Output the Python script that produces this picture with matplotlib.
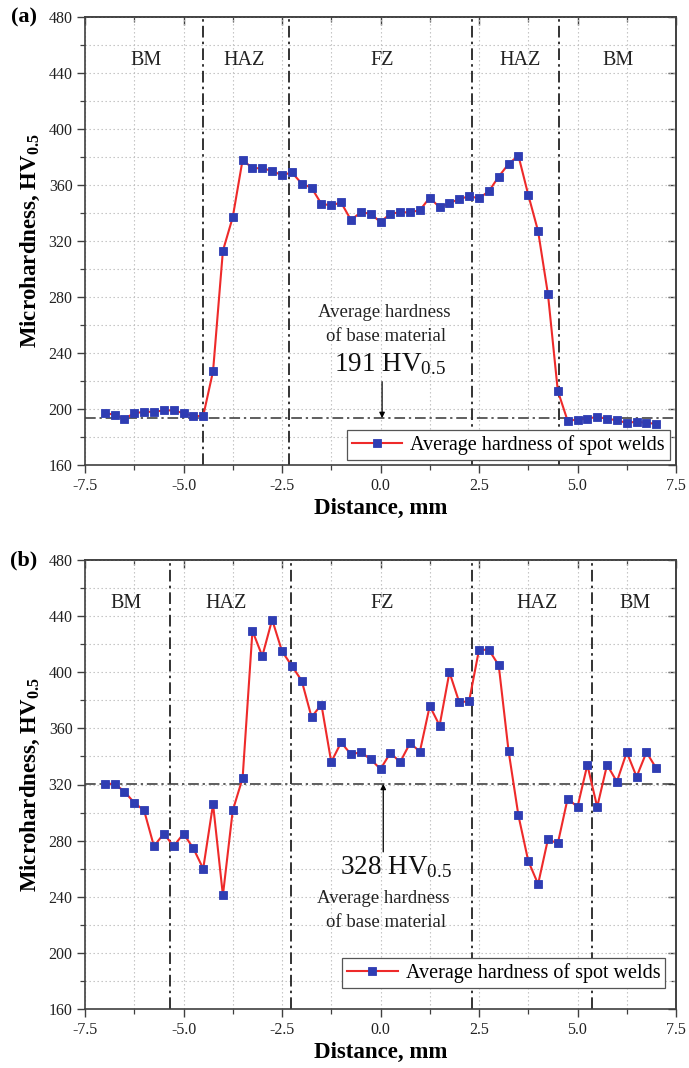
import matplotlib
matplotlib.use('Agg')
import matplotlib.pyplot as plt
from matplotlib.ticker import MultipleLocator, FormatStrFormatter

plt.rcParams['font.family'] = ['Liberation Serif', 'DejaVu Serif']
plt.rcParams['mathtext.fontset'] = 'custom'
plt.rcParams['mathtext.rm'] = 'Liberation Serif'
plt.rcParams['mathtext.it'] = 'Liberation Serif:italic'
plt.rcParams['mathtext.bf'] = 'Liberation Serif:bold'
plt.rcParams['axes.unicode_minus'] = False

# ---------------- data ----------------
distance = [-7.0, -6.75, -6.5, -6.25, -6.0, -5.75, -5.5, -5.25, -5.0, -4.75,
            -4.5, -4.25, -4.0, -3.75, -3.5, -3.25, -3.0, -2.75, -2.5, -2.25,
            -2.0, -1.75, -1.5, -1.25, -1.0, -0.75, -0.5, -0.25, 0.0, 0.25,
            0.5, 0.75, 1.0, 1.25, 1.5, 1.75, 2.0, 2.25, 2.5, 2.75,
            3.0, 3.25, 3.5, 3.75, 4.0, 4.25, 4.5, 4.75, 5.0, 5.25,
            5.5, 5.75, 6.0, 6.25, 6.5, 6.75, 7.0]

hardness_a = [197, 196, 193, 197, 198, 198, 199, 199, 197, 195,
              195, 227, 313, 337, 378, 372, 372, 370, 367, 369,
              361, 358, 346.5, 345.5, 347.5, 335, 340.5, 339.5, 333.5, 339.5,
              340.5, 340.5, 342, 351, 344, 347, 350, 352, 350.5, 355.5,
              366, 375, 381, 353, 327, 282, 213, 191.5, 192.5, 193,
              194.5, 193, 192, 190, 191, 190, 189.5]

hardness_b = [320.5, 320.5, 315, 307, 301.5, 276, 285, 276, 285, 274.5,
              260, 306, 241, 301.5, 324.5, 429.5, 411.5, 437.5, 415, 404.5,
              394, 368, 377, 336, 350, 341.5, 343, 338, 331, 342.5,
              336, 349.5, 343.5, 376, 362, 400, 378.5, 379.5, 416, 416,
              405, 344, 298, 265.5, 249, 281, 278, 310, 304, 334,
              304, 334, 322, 343, 325.5, 343, 331.5]

zone_bounds_a = [-4.5, -2.33, 2.31, 4.54]
zone_bounds_b = [-5.35, -2.28, 2.31, 5.36]
base_line_a = 193.5
base_line_b = 320.5

zone_names = ['BM', 'HAZ', 'FZ', 'HAZ', 'BM']
zone_x_a = [-5.96, -3.45, 0.04, 3.55, 6.03]
zone_x_b = [-6.45, -3.92, 0.04, 3.98, 6.47]

legend_label = 'Average hardness of spot welds'
panel_labels = ['(a)', '(b)']
base_value_a = '191'
base_value_b = '328'

# ---------------- figure ----------------
W, H = 689, 1068
fig = plt.figure(figsize=(W / 100, H / 100), dpi=100)

left = 85 / W
width = (676 - 85) / W
ax_a = fig.add_axes([left, 1 - 465 / H, width, (465 - 17) / H])
ax_b = fig.add_axes([left, 1 - 1009 / H, width, (1009 - 560) / H])

blue = '#2f3db3'
red = '#ee2a2a'
grid_col = '#bcbcbc'
spine_col = '#404040'


def style_axes(ax):
    ax.set_xlim(-7.5, 7.5)
    ax.set_ylim(160, 480)
    ax.xaxis.set_major_locator(MultipleLocator(2.5))
    ax.xaxis.set_minor_locator(MultipleLocator(1.25))
    ax.yaxis.set_major_locator(MultipleLocator(40))
    ax.yaxis.set_minor_locator(MultipleLocator(20))
    ax.xaxis.set_major_formatter(FormatStrFormatter('%.1f'))
    ax.grid(True, which='both', linestyle=(0, (1.2, 2.4)), color=grid_col,
            linewidth=0.8, zorder=0)
    ax.tick_params(axis='both', which='major', direction='out', length=6,
                   width=1.0, labelsize=11.5, color=spine_col, pad=3,
                   top=False, right=False, labelcolor='#222222')
    ax.tick_params(axis='both', which='minor', direction='out', length=3.5,
                   width=0.9, color=spine_col, top=False, right=False)
    for s in ax.spines.values():
        s.set_color(spine_col)
        s.set_linewidth(1.2)
    # mirrored inward ticks on top / right
    sx = ax.secondary_xaxis('top')
    sx.xaxis.set_major_locator(MultipleLocator(2.5))
    sx.xaxis.set_minor_locator(MultipleLocator(1.25))
    sx.tick_params(which='major', direction='in', length=6, width=1.0,
                   labeltop=False, color=spine_col)
    sx.tick_params(which='minor', direction='in', length=3.5, width=0.9,
                   color=spine_col)
    sx.spines['top'].set_color(spine_col)
    sx.spines['top'].set_linewidth(1.2)
    sy = ax.secondary_yaxis('right')
    sy.yaxis.set_major_locator(MultipleLocator(40))
    sy.yaxis.set_minor_locator(MultipleLocator(20))
    sy.tick_params(which='major', direction='in', length=6, width=1.0,
                   labelright=False, color=spine_col)
    sy.tick_params(which='minor', direction='in', length=3.5, width=0.9,
                   color=spine_col)
    sy.spines['right'].set_color(spine_col)
    sy.spines['right'].set_linewidth(1.2)
    ax.set_xlabel('Distance, mm', fontsize=16.5, fontweight='bold', labelpad=3)
    ax.set_ylabel(r'Microhardness, HV$_{\mathbf{0.5}}$', fontsize=16.5,
                  fontweight='bold', labelpad=5)


def draw_panel(ax, y, bounds, base, zone_x, legend_anchor):
    style_axes(ax)
    for b in bounds:
        ax.axvline(b, color='#111111', linewidth=1.2,
                   linestyle=(0, (7, 2.5, 1.5, 2.5)), zorder=2)
    ax.axhline(base, color='#333333', linewidth=1.1,
               linestyle=(0, (7, 2.5, 1.5, 2.5)), zorder=2)
    ax.plot(distance, y, color=red, linewidth=1.5, marker='s',
            markersize=6.2, markerfacecolor=blue, markeredgecolor=blue,
            markeredgewidth=0.6, zorder=4, label=legend_label)
    for name, zx in zip(zone_names, zone_x):
        ax.text(zx, 449, name, fontsize=14.5, ha='center', va='center',
                color='#222222', zorder=3)
    leg = ax.legend(loc='lower right', bbox_to_anchor=legend_anchor,
                    fontsize=14.5, handlelength=2.5, handletextpad=0.4,
                    borderpad=0.25, borderaxespad=0.0, fancybox=False,
                    framealpha=1.0, edgecolor='#555555')
    leg.get_frame().set_linewidth(0.9)
    leg.set_zorder(5)


draw_panel(ax_a, hardness_a, zone_bounds_a, base_line_a, zone_x_a,
           (0.99, 0.011))
draw_panel(ax_b, hardness_b, zone_bounds_b, base_line_b, zone_x_b,
           (0.982, 0.047))

# annotations panel (a)
ax_a.text(0.1, 268.8, 'Average hardness', fontsize=13.5, ha='center',
          va='center', color='#222222', zorder=3)
ax_a.text(0.13, 251.6, 'of base material', fontsize=13.5, ha='center',
          va='center', color='#222222', zorder=3)
ax_a.text(0.23, 232, base_value_a + r' HV$_{0.5}$', fontsize=19.5,
          ha='center', va='center', color='#111111', zorder=3)
ax_a.annotate('', xy=(0.04, base_line_a), xytext=(0.04, 219.5),
              arrowprops=dict(arrowstyle='-|>', color='black', lw=0.9,
                              mutation_scale=8, shrinkA=0, shrinkB=0),
              zorder=3)

# annotations panel (b)
ax_b.text(0.38, 260.8, base_value_b + r' HV$_{0.5}$', fontsize=19.5,
          ha='center', va='center', color='#111111', zorder=3)
ax_b.text(0.06, 239, 'Average hardness', fontsize=13.5, ha='center',
          va='center', color='#222222', zorder=3)
ax_b.text(0.15, 221.3, 'of base material', fontsize=13.5, ha='center',
          va='center', color='#222222', zorder=3)
ax_b.annotate('', xy=(0.07, base_line_b), xytext=(0.07, 272),
              arrowprops=dict(arrowstyle='-|>', color='black', lw=0.9,
                              mutation_scale=8, shrinkA=0, shrinkB=0),
              zorder=3)

# panel labels
fig.text(24 / W, 1 - 17 / H, panel_labels[0], fontsize=16, fontweight='bold',
         ha='center', va='center')
fig.text(24 / W, 1 - 560 / H, panel_labels[1], fontsize=16, fontweight='bold',
         ha='center', va='center')

fig.savefig('out.png', dpi=100)
